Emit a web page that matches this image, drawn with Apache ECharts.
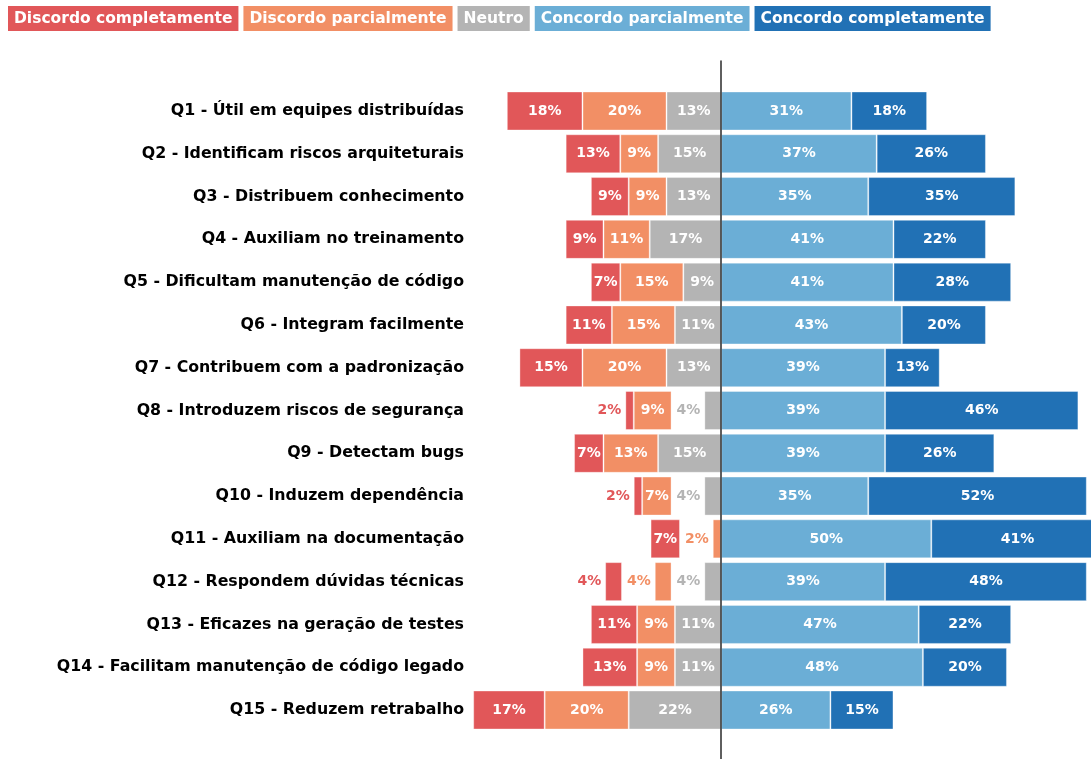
<!DOCTYPE html>
<html><head><meta charset="utf-8">
<script src="https://cdn.jsdelivr.net/npm/echarts@6/dist/echarts.min.js"></script>
<style>html,body{margin:0;padding:0;background:#fff}#c{width:1091px;height:759px}</style>
</head><body><div id="c"></div>
<script>
const categories = [
  'Q1 - Útil em equipes distribuídas',
  'Q2 - Identificam riscos arquiteturais',
  'Q3 - Distribuem conhecimento',
  'Q4 - Auxiliam no treinamento',
  'Q5 - Dificultam manutenção de código',
  'Q6 - Integram facilmente',
  'Q7 - Contribuem com a padronização',
  'Q8 - Introduzem riscos de segurança',
  'Q9 - Detectam bugs',
  'Q10 - Induzem dependência',
  'Q11 - Auxiliam na documentação',
  'Q12 - Respondem dúvidas técnicas',
  'Q13 - Eficazes na geração de testes',
  'Q14 - Facilitam manutenção de código legado',
  'Q15 - Reduzem retrabalho'
];
const discordoCompletamente = [18, 13, 9, 9, 7, 11, 15, 2, 7, 2, 7, 4, 11, 13, 17];
const discordoParcialmente  = [20, 9, 9, 11, 15, 15, 20, 9, 13, 7, 2, 4, 9, 9, 20];
const neutro                = [13, 15, 13, 17, 9, 11, 13, 4, 15, 4, 0, 4, 11, 11, 22];
const concordoParcialmente  = [31, 37, 35, 41, 41, 43, 39, 39, 39, 35, 50, 39, 47, 48, 26];
const concordoCompletamente = [18, 26, 35, 22, 28, 20, 13, 46, 26, 52, 41, 48, 22, 20, 15];
const legendNames = ['Discordo completamente', 'Discordo parcialmente', 'Neutro', 'Concordo parcialmente', 'Concordo completamente'];

const colors = {
  dc: '#e15759', dp: '#f28f65', n: '#b4b4b4', cp: '#6baed6', cc: '#2171b5'
};
const SMALL = 5;     // below this, label goes outside
const GAP = 7.8;     // room for an outside label

function segData(vals, color, negative) {
  return vals.map(v => {
    const item = { value: negative ? -v : v };
    if (v === 0) item.label = { show: false };
    else if (v < SMALL) item.label = { position: 'left', color: color, distance: 4 };
    return item;
  });
}
function gapData(vals) {
  return vals.map(v => (v > 0 && v < SMALL) ? -GAP : 0);
}
const labelFont = { fontFamily: 'DejaVu Sans', fontWeight: 'bold', fontSize: 14 };
function barSeries(name, data, color) {
  return {
    name, type: 'bar', stack: 'all', data, barWidth: 39, clip: false,
    xAxisIndex: 0, yAxisIndex: 0,
    itemStyle: { color, borderColor: 'rgba(255,255,255,0.35)', borderWidth: 1 },
    label: Object.assign({
      show: true, position: 'inside', color: '#fff',
      formatter: p => Math.abs(p.value) + '%'
    }, labelFont)
  };
}
function gapSeries(data) {
  return {
    name: 'gap', type: 'bar', stack: 'all', data, barWidth: 39, silent: true,
    xAxisIndex: 0, yAxisIndex: 0,
    itemStyle: { color: 'rgba(0,0,0,0)' }, label: { show: false }
  };
}

const chart = echarts.init(document.getElementById('c'));
const legendColors = [colors.dc, colors.dp, colors.n, colors.cp, colors.cc];
chart.setOption({
  animation: false,
  legend: {
    top: 1, left: -2, itemGap: 0, itemWidth: 0, itemHeight: 0, icon: 'none',
    selectedMode: false,
    data: legendNames.map((n, i) => ({
      name: n,
      textStyle: {
        color: '#fff', backgroundColor: legendColors[i], padding: [5, 6, 4, 6],
        fontFamily: 'DejaVu Sans', fontWeight: 'bold', fontSize: 15.5
      }
    }))
  },
  grid: [
    { left: 469, right: 0, top: 89.6, bottom: 27.6 },
    { left: 469, right: 0, top: 61, bottom: 0 }
  ],
  xAxis: [
    { type: 'value', gridIndex: 0, min: -60, max: 88, show: false },
    { type: 'value', gridIndex: 1, min: -60, max: 88, show: false }
  ],
  yAxis: [
    {
      type: 'category', gridIndex: 0, data: categories, inverse: true,
      axisLine: { show: false }, axisTick: { show: false },
      axisLabel: { color: '#000', margin: 5, fontFamily: 'DejaVu Sans', fontWeight: 'bold', fontSize: 15.8 }
    },
    {
      type: 'value', gridIndex: 1, min: 0, max: 1, z: 10,
      axisLine: { show: true, onZero: true, lineStyle: { color: '#2a2a2a', width: 1.5 } },
      axisTick: { show: false }, axisLabel: { show: false }, splitLine: { show: false }
    }
  ],
  series: [
    barSeries('Neutro', segData(neutro, colors.n, true), colors.n),
    gapSeries(gapData(neutro)),
    barSeries('Discordo parcialmente', segData(discordoParcialmente, colors.dp, true), colors.dp),
    gapSeries(gapData(discordoParcialmente)),
    barSeries('Discordo completamente', segData(discordoCompletamente, colors.dc, true), colors.dc),
    barSeries('Concordo parcialmente', segData(concordoParcialmente, colors.cp, false), colors.cp),
    barSeries('Concordo completamente', segData(concordoCompletamente, colors.cc, false), colors.cc)
  ]
});
</script></body></html>
